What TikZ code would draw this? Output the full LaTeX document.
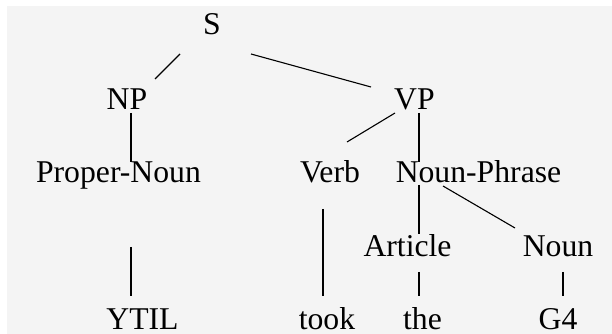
\documentclass[tikz,border=0pt]{standalone}
\usepackage{fontspec}
\setmainfont{Liberation Serif}
\definecolor{bggray}{RGB}{244,244,244}
\tikzset{
  lbl/.style={anchor=base, inner sep=0pt, font=\fontsize{31.7}{38}\selectfont},
  leaf/.style={lbl, text depth=0pt},
  edge/.style={line width=1.1pt, black}
}
\begin{document}
\begin{tikzpicture}[x=1pt,y=1pt]
\useasboundingbox (0,0) rectangle (612,334);
\fill[white] (0,0) rectangle (612,334);
\fill[bggray] (7,0) rectangle (612,328);
% nodes (y = 334 - pixel baseline)
\node[lbl] (S)   at (212,299) {S};
\node[lbl] (NP)  at (127,224) {NP};
\node[lbl] (VP)  at (414.5,224) {VP};
\node[lbl] (PN)  at (118.5,151) {Proper-Noun};
\node[lbl] (V)   at (330,151) {Verb};
\node[lbl] (NPh) at (478.5,151) {Noun-Phrase};
\node[lbl] (Art) at (407.5,77) {Article};
\node[lbl] (N)   at (558,77) {Noun};
\node[leaf] (Y)   at (142.5,5) {YTIL};
\node[leaf] (T)   at (327,5) {took};
\node[leaf] (The) at (422.5,5) {the};
\node[leaf] (G)   at (558,5) {G4};
% connectors
\draw[edge] ([shift={(-32,-19)}]S.base) -- ([shift={(28,31)}]NP.base);
\draw[edge] ([shift={(39,-19)}]S.base) -- ([shift={(-43.5,23)}]VP.base);
\draw[edge] ([shift={(4,-3)}]NP.base) -- ([shift={(12.5,21)}]PN.base);
\draw[edge] ([shift={(-19.5,-3)}]VP.base) -- ([shift={(17,41)}]V.base);
\draw[edge] ([shift={(4.5,-3)}]VP.base) -- ([shift={(-59.5,21)}]NPh.base);
\draw[edge] ([shift={(-59.5,-2)}]NPh.base) -- ([shift={(11.5,23)}]Art.base);
\draw[edge] ([shift={(-35.5,-3)}]NPh.base) -- ([shift={(-43,29)}]N.base);
\draw[edge] ([shift={(12.5,-64)}]PN.base) -- ([shift={(-11.5,33)}]Y.base);
\draw[edge] ([shift={(-7,-26)}]V.base) -- ([shift={(-4,33)}]T.base);
\draw[edge] ([shift={(11.5,-15)}]Art.base) -- ([shift={(-3.5,33)}]The.base);
\draw[edge] ([shift={(5,-15)}]N.base) -- ([shift={(5,33)}]G.base);
\end{tikzpicture}
\end{document}
